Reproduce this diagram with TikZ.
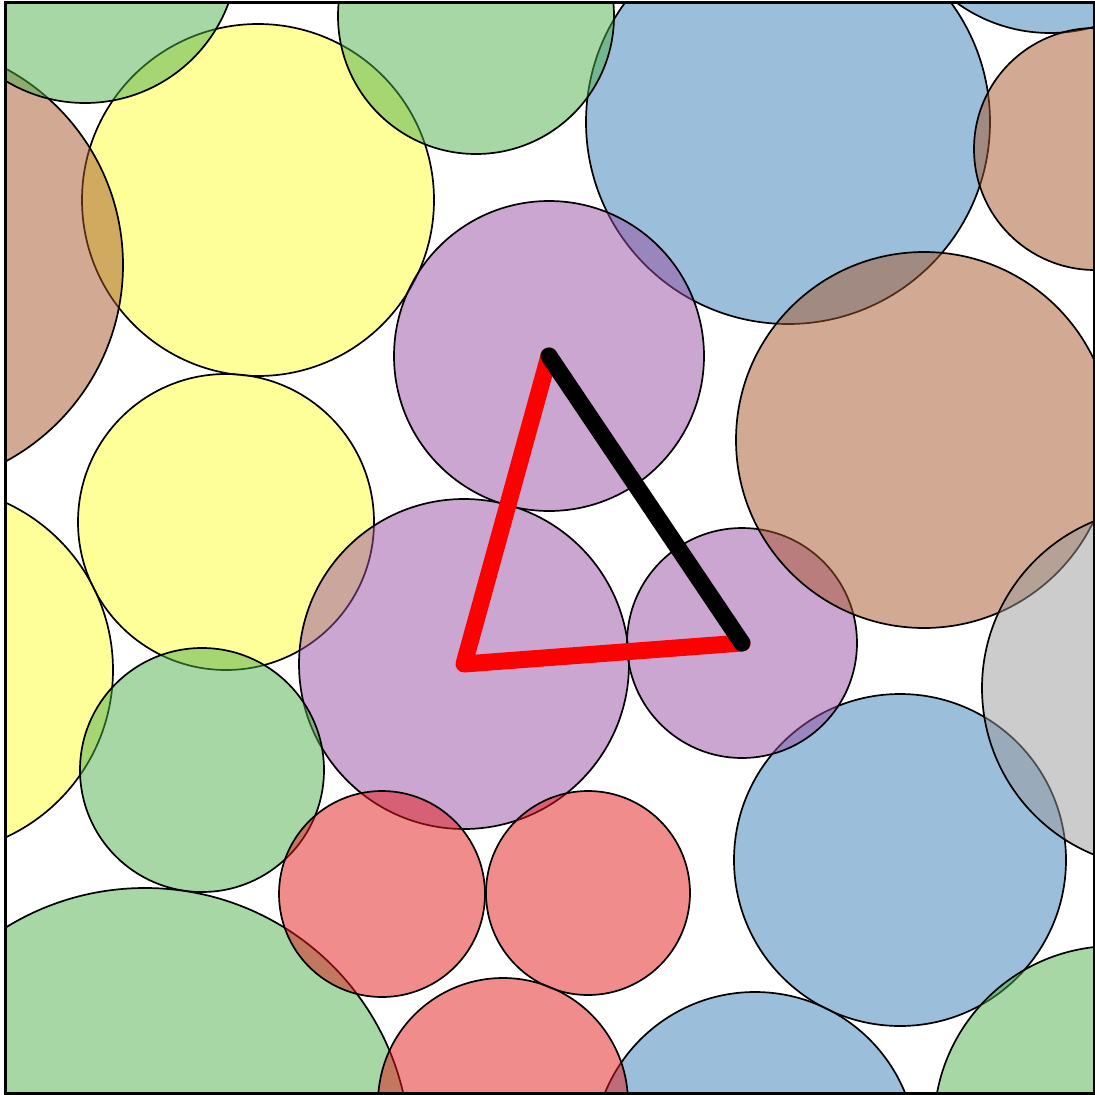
\documentclass[tikz,border=0pt]{standalone}
\begin{document}
\begin{tikzpicture}[x=1pt,y=-1pt,
  ball/.style={draw=black,line width=1.7pt,fill opacity=0.5},
  cblue/.style={ball,fill={rgb,255:red,55;green,126;blue,184}},
  cyellow/.style={ball,fill={rgb,255:red,255;green,255;blue,51}},
  cpurple/.style={ball,fill={rgb,255:red,152;green,78;blue,163}},
  cbrown/.style={ball,fill={rgb,255:red,166;green,86;blue,40}},
  cgreen/.style={ball,fill={rgb,255:red,77;green,175;blue,74}},
  cred/.style={ball,fill={rgb,255:red,228;green,26;blue,28}},
  cgrey/.style={ball,fill={rgb,255:red,153;green,153;blue,153}},
  bond/.style={line width=17pt,line cap=round,line join=round}]
\useasboundingbox (0,0) rectangle (1095,1095);
\begin{scope}
\clip (5,2) rectangle (1094,1093);
% blue
\path[cblue] (788,122) circle (202);
\path[cblue] (1050,-126) circle (159);
\path[cblue] (900,860) circle (166);
\path[cblue] (755,1154) circle (162);
% yellow
\path[cyellow] (258,200) circle (176);
\path[cyellow] (226,522) circle (148);
\path[cyellow] (-71,670) circle (184);
% purple
\path[cpurple] (549,356) circle (155);
\path[cpurple] (464,664) circle (165);
\path[cpurple] (742,643) circle (115);
% brown
\path[cbrown] (-100,265) circle (223);
\path[cbrown] (1095,149) circle (121);
\path[cbrown] (924,440) circle (188);
% green
\path[cgreen] (85,-50) circle (153);
\path[cgreen] (476,16) circle (138);
\path[cgreen] (202,770) circle (122);
\path[cgreen] (145,1153) circle (265);
\path[cgreen] (1114,1126) circle (180);
% red
\path[cred] (382,894) circle (103);
\path[cred] (588,893) circle (102);
\path[cred] (503,1103) circle (125);
% grey
\path[cgrey] (1162,688) circle (180);
\end{scope}
\draw[line width=3pt] (5,2) rectangle (1094,1093);
\coordinate (top) at (549,356);
\coordinate (left) at (464,664);
\coordinate (right) at (742,643);
\draw[bond,red] (top) -- (left) -- (right);
\draw[bond,black] (top) -- (right);
\end{tikzpicture}
\end{document}
